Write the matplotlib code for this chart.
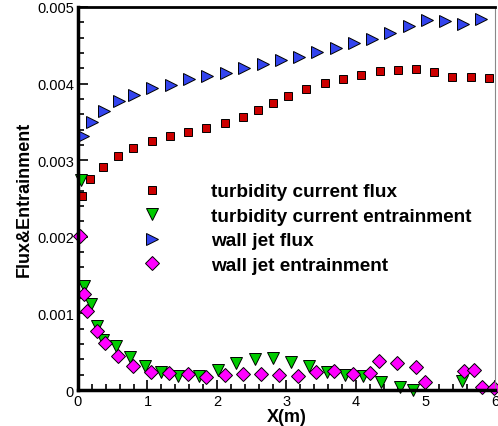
import matplotlib.pyplot as plt
from matplotlib.ticker import MultipleLocator, FixedLocator

plt.rcParams['font.family'] = ['Liberation Sans', 'DejaVu Sans']

# turbidity current flux
tc_flux_x = [0.057, 0.177, 0.355, 0.570, 0.789, 1.058, 1.320, 1.583, 1.847, 2.110,
             2.373, 2.584, 2.803, 3.024, 3.287, 3.550, 3.814, 4.076, 4.339, 4.603,
             4.866, 5.124, 5.387, 5.651, 5.914]
tc_flux_y = [0.002533, 0.002755, 0.002915, 0.003055, 0.003155, 0.003255, 0.003320,
             0.003372, 0.003420, 0.003486, 0.003564, 0.003655, 0.003747, 0.003834,
             0.003930, 0.004004, 0.004060, 0.004112, 0.004161, 0.004181, 0.004195,
             0.004155, 0.004082, 0.004090, 0.004077]

# turbidity current entrainment
tc_ent_x = [0.04, 0.086, 0.187, 0.277, 0.355, 0.545, 0.746, 0.966, 1.201, 1.44,
            1.741, 2.014, 2.278, 2.541, 2.803, 3.067, 3.330, 3.578, 3.847, 4.105,
            4.36, 4.636, 4.813, 5.522]
tc_ent_y = [0.00274, 0.001354, 0.001123, 0.000839, 0.000653, 0.000578, 0.000427,
            0.000309, 0.000231, 0.000185, 0.000179, 0.000265, 0.000349, 0.000405,
            0.000414, 0.000362, 0.000309, 0.000239, 0.000196, 0.000179, 0.000105,
            0.000043, 0.0, 0.000114]

# wall jet flux
wj_flux_x = [0.067, 0.196, 0.373, 0.589, 0.808, 1.072, 1.335, 1.598, 1.862, 2.125,
             2.388, 2.655, 2.918, 3.182, 3.445, 3.708, 3.972, 4.231, 4.493, 4.756,
             5.020, 5.283, 5.546, 5.805]
wj_flux_y = [0.003320, 0.003503, 0.003646, 0.003769, 0.003851, 0.003939, 0.003986,
             0.004056, 0.004095, 0.004142, 0.004200, 0.004256, 0.004308, 0.004351,
             0.004409, 0.004465, 0.004534, 0.004582, 0.004664, 0.004756, 0.004830,
             0.004817, 0.004774, 0.004839]

# wall jet entrainment
wj_ent_x = [0.029, 0.086, 0.133, 0.268, 0.392, 0.578, 0.785, 1.048, 1.310, 1.583,
            1.847, 2.110, 2.373, 2.627, 2.889, 3.162, 3.426, 3.689, 3.951, 4.206,
            4.335, 4.597, 4.861, 4.995, 5.555, 5.698, 5.817, 5.985]
wj_ent_y = [0.002007, 0.001253, 0.001027, 0.000774, 0.000610, 0.000448, 0.000317,
            0.000231, 0.000222, 0.000209, 0.000174, 0.000200, 0.000209, 0.000213,
            0.000200, 0.000187, 0.000239, 0.000252, 0.000209, 0.000218, 0.000383,
            0.000352, 0.000304, 0.000108, 0.000244, 0.000265, 0.000035, 0.000022]

fig = plt.figure(figsize=(4.98, 4.27), dpi=100)
ax = fig.add_axes([0.1566, 0.0843, 0.8374, 0.897])

ax.plot(tc_flux_x, tc_flux_y, 's', color='#cc0000', mec='black', mew=0.7, ms=5.8,
        clip_on=False, label='turbidity current flux')
ax.plot(tc_ent_x, tc_ent_y, 'v', color='#00cc00', mec='black', mew=0.7, ms=8.0,
        clip_on=False, label='turbidity current entrainment')
ax.plot(wj_flux_x, wj_flux_y, '>', color='#3344ee', mec='black', mew=0.7, ms=8.6,
        clip_on=False, label='wall jet flux')
ax.plot(wj_ent_x, wj_ent_y, 'D', color='#ff00ff', mec='black', mew=0.7, ms=7.3,
        clip_on=False, label='wall jet entrainment')

ax.set_xlim(0, 6)
ax.set_ylim(0, 0.005)
ax.xaxis.set_major_locator(MultipleLocator(1))
ax.xaxis.set_minor_locator(MultipleLocator(0.2))
ax.yaxis.set_major_locator(FixedLocator([0, 0.001, 0.002, 0.003, 0.004, 0.005]))
ax.yaxis.set_minor_locator(MultipleLocator(0.0002))
ax.set_yticklabels(['0', '0.001', '0.002', '0.003', '0.004', '0.005'])

ax.tick_params(which='both', direction='in', top=False, right=False, labelsize=10.5,
               width=1.2, pad=3)
ax.tick_params(which='major', length=7)
ax.tick_params(which='minor', length=4)

for side in ['left', 'bottom']:
    ax.spines[side].set_linewidth(2.5)
ax.spines['top'].set_linewidth(2.0)
ax.spines['right'].set_linewidth(0.8)
ax.spines['right'].set_color('#888888')

ax.set_xlabel('X(m)', fontsize=13, fontweight='bold', labelpad=0)
ax.set_ylabel('Flux&Entrainment', fontsize=13, fontweight='bold', labelpad=3)

ax.legend(loc='upper left', bbox_to_anchor=(0.132, 0.54), frameon=False,
          borderaxespad=0, borderpad=0, numpoints=1, handlelength=2.0,
          handletextpad=2.1, labelspacing=0.37,
          prop={'size': 13.7, 'weight': 'bold'})

fig.savefig('out.png', dpi=100)
